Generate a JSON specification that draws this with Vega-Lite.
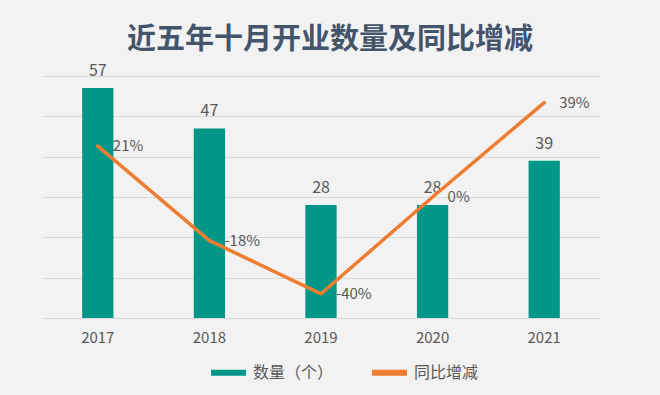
{
  "$schema": "https://vega.github.io/schema/vega-lite/v6.json",
  "width": 558,
  "height": 242,
  "autosize": {"type": "none"},
  "padding": {"left": 42, "top": 76, "right": 60, "bottom": 77},
  "background": "#f2f2f2",
  "config": {
    "view": {"stroke": null},
    "font": "Noto Sans CJK SC",
    "locale": {
      "number": {"decimal": ".", "thousands": ",", "grouping": [3], "currency": ["$", ""], "minus": "-"}
    }
  },
  "title": {
    "text": "近五年十月开业数量及同比增减",
    "fontSize": 29,
    "fontWeight": "bold",
    "color": "#44546a",
    "anchor": "middle",
    "dx": 9,
    "offset": 8
  },
  "data": {
    "values": [
      {"year": "2017", "count": 57, "yoy": 0.21},
      {"year": "2018", "count": 47, "yoy": -0.18},
      {"year": "2019", "count": 28, "yoy": -0.40},
      {"year": "2020", "count": 28, "yoy": 0.00},
      {"year": "2021", "count": 39, "yoy": 0.39}
    ]
  },
  "encoding": {
    "x": {
      "field": "year",
      "type": "ordinal",
      "scale": {"paddingInner": 0.72, "paddingOuter": 0.36},
      "axis": {
        "title": null,
        "labelAngle": 0,
        "labelFontSize": 15,
        "labelColor": "#595959",
        "labelPadding": 12,
        "ticks": false,
        "domainColor": "#d9d9d9",
        "grid": false
      }
    }
  },
  "layer": [
    {
      "encoding": {
        "y": {
          "field": "count",
          "type": "quantitative",
          "scale": {"domain": [0, 60], "nice": false},
          "axis": {
            "title": null,
            "labels": false,
            "ticks": false,
            "domain": false,
            "values": [0, 10, 20, 30, 40, 50, 60],
            "gridColor": "#d9d9d9",
            "gridWidth": 1
          }
        }
      },
      "layer": [
        {
          "mark": {"type": "bar", "color": "#009688"},
          "encoding": {
            "color": {
              "datum": "数量（个）",
              "scale": {"domain": ["数量（个）", "同比增减"], "range": ["#009688", "#ed7d31"]},
              "legend": {
                "title": null,
                "orient": "none",
                "direction": "horizontal",
                "legendX": 166,
                "legendY": 276,
                "symbolType": "stroke",
                "symbolSize": 1225,
                "symbolStrokeWidth": 6,
                "labelFontSize": 16,
                "labelColor": "#595959",
                "labelOffset": 4,
                "columnPadding": 26,
                "encode": {
                  "symbols": {
                    "update": {
                      "stroke": {"scale": "color", "field": "value"},
                      "strokeWidth": {"value": 6},
                      "fill": {"value": "transparent"}
                    }
                  }
                }
              }
            }
          }
        },
        {
          "mark": {"type": "text", "baseline": "bottom", "dy": -9, "fontSize": 16, "color": "#595959"},
          "encoding": {"text": {"field": "count", "type": "quantitative"}}
        }
      ]
    },
    {
      "encoding": {
        "y": {
          "field": "yoy",
          "type": "quantitative",
          "scale": {"domain": [-0.5, 0.5], "nice": false},
          "axis": null
        }
      },
      "layer": [
        {
          "mark": {"type": "line", "strokeWidth": 3.5, "strokeCap": "round", "strokeJoin": "round"},
          "encoding": {"color": {"datum": "同比增减"}}
        },
        {
          "mark": {"type": "text", "align": "left", "baseline": "middle", "dx": 15, "fontSize": 15, "color": "#595959"},
          "encoding": {"text": {"field": "yoy", "type": "quantitative", "format": ".0%"}}
        }
      ]
    }
  ],
  "resolve": {"scale": {"y": "independent"}}
}
